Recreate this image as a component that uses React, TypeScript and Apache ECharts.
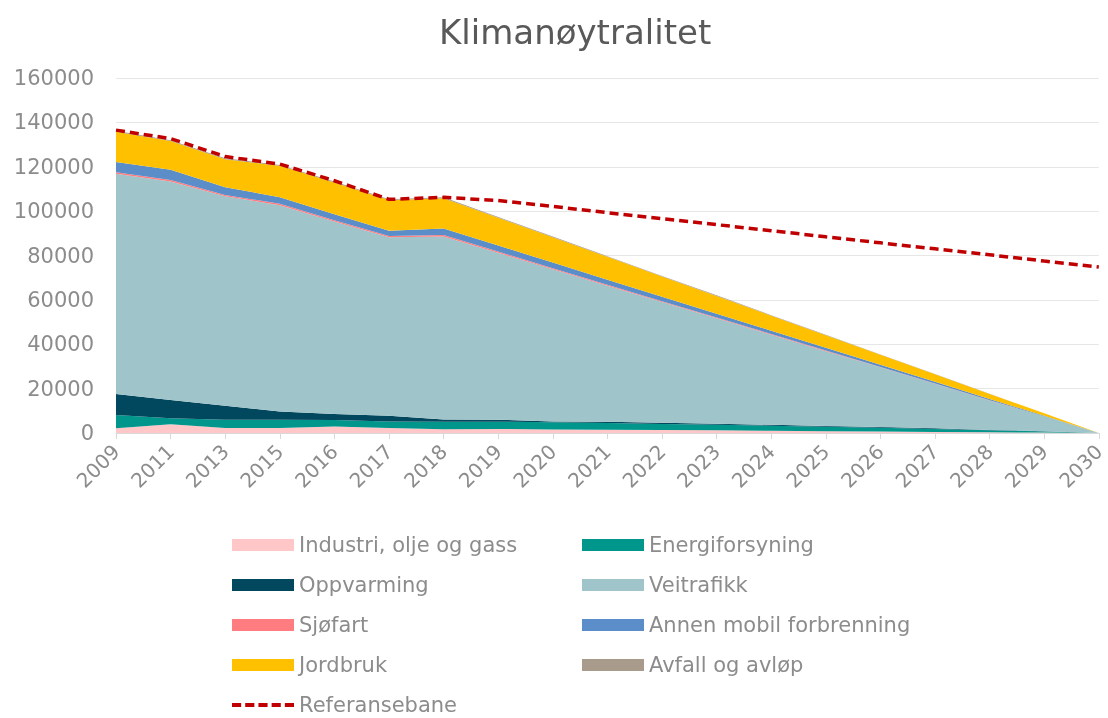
import React, { useEffect, useRef } from "react";
import * as echarts from "echarts";

const years = ["2009", "2011", "2013", "2015", "2016", "2017", "2018", "2019", "2020", "2021", "2022", "2023", "2024", "2025", "2026", "2027", "2028", "2029", "2030"];

const industri = [2100, 4000, 2300, 2300, 2900, 2300, 1700, 1800, 1600, 1500, 1300, 1200, 1000, 800, 700, 500, 300, 200, 0];
const energiforsyning = [6000, 2600, 3700, 3700, 3000, 2900, 3400, 3300, 3300, 3000, 2800, 2500, 2300, 2000, 1700, 1300, 900, 500, 0];
const oppvarming = [9500, 8300, 6300, 3700, 2700, 2600, 1000, 900, 300, 600, 500, 500, 400, 400, 300, 300, 200, 100, 0];
const veitrafikk = [99300, 98500, 94400, 93000, 86700, 80400, 82500, 75200, 68600, 61300, 54400, 47500, 40600, 33700, 26900, 20100, 13300, 6700, 0];
const sjofart = [600, 600, 600, 600, 600, 600, 600, 550, 500, 450, 400, 350, 300, 250, 200, 150, 100, 50, 0];
const annenMobil = [4600, 4600, 3500, 3000, 2700, 2300, 3000, 2750, 2500, 2250, 2000, 1750, 1500, 1250, 1000, 750, 500, 250, 0];
const jordbruk = [13700, 13000, 12600, 14100, 14300, 13900, 13600, 12500, 11400, 10300, 9100, 8000, 6800, 5700, 4500, 3400, 2300, 1100, 0];
const avfall = [400, 400, 400, 400, 400, 400, 400, 370, 330, 300, 270, 230, 200, 170, 130, 100, 70, 30, 0];
const referansebane = [136500, 132700, 124600, 121200, 113700, 105300, 106200, 104800, 102100, 99300, 96600, 93900, 91200, 88400, 85700, 83000, 80300, 77500, 74800];

const yTicks = { min: 0, max: 160000, interval: 20000 };

const FONT = "DejaVu Sans";
const GRAY = "#8c8c8c";
const DASH_ICON = "path://M0,0h9v4h-9z M13,0h9v4h-9z M26,0h9v4h-9z M39,0h9v4h-9z M52,0h9v4h-9z";

const areaDefs = [
  { name: "Industri, olje og gass", data: industri, color: "#ffc7c7" },
  { name: "Energiforsyning", data: energiforsyning, color: "#00968c" },
  { name: "Oppvarming", data: oppvarming, color: "#01475e" },
  { name: "Veitrafikk", data: veitrafikk, color: "#9fc5ca" },
  { name: "Sjøfart", data: sjofart, color: "#ff7c80" },
  { name: "Annen mobil forbrenning", data: annenMobil, color: "#5b8ec8" },
  { name: "Jordbruk", data: jordbruk, color: "#ffc000" },
  { name: "Avfall og avløp", data: avfall, color: "#a89b8c" },
];

export default function App() {
  const ref = useRef<HTMLDivElement>(null);
  useEffect(() => {
    if (!ref.current) return;
    const chart = echarts.init(ref.current, undefined, { renderer: "svg" });
    const series: any[] = areaDefs.map((d) => ({
      name: d.name,
      type: "line",
      stack: "total",
      data: d.data,
      symbol: "none",
      lineStyle: { width: 0, color: d.color },
      itemStyle: { color: d.color },
      areaStyle: { color: d.color, opacity: 1 },
      emphasis: { disabled: true },
    }));
    series.push({
      name: "Referansebane",
      type: "line",
      data: referansebane,
      symbol: "none",
      lineStyle: { width: 3.5, color: "#c00000", type: [9, 5] },
      itemStyle: { color: "#c00000" },
      z: 10,
    });
    const legendCommon = {
      orient: "vertical",
      itemWidth: 62,
      itemHeight: 12,
      itemGap: 18,
      padding: 0,
      textStyle: { fontFamily: FONT, fontSize: 21, lineHeight: 22, color: GRAY },
      selectedMode: false,
    };
    chart.setOption({
      animation: false,
      title: {
        text: "Klimanøytralitet",
        left: 434,
        top: 10,
        textStyle: { fontFamily: FONT, fontSize: 34, fontWeight: "normal", color: "#595959" },
      },
      grid: { left: 116, right: 5, top: 78, bottom: 285, containLabel: false },
      legend: [
        {
          ...legendCommon,
          left: 232,
          top: 534,
          data: [
            { name: "Industri, olje og gass", icon: "rect" },
            { name: "Oppvarming", icon: "rect" },
            { name: "Sjøfart", icon: "rect" },
            { name: "Jordbruk", icon: "rect" },
            { name: "Referansebane", icon: DASH_ICON },
          ],
        },
        {
          ...legendCommon,
          left: 582,
          top: 534,
          data: [
            { name: "Energiforsyning", icon: "rect" },
            { name: "Veitrafikk", icon: "rect" },
            { name: "Annen mobil forbrenning", icon: "rect" },
            { name: "Avfall og avløp", icon: "rect" },
          ],
        },
      ],
      xAxis: {
        type: "category",
        data: years,
        boundaryGap: false,
        axisLine: { lineStyle: { color: "#d9d9d9" } },
        axisTick: { show: true, length: 6, lineStyle: { color: "#d9d9d9" } },
        axisLabel: { rotate: 45, fontFamily: FONT, fontSize: 20, color: GRAY, margin: 15, interval: 0 },
        splitLine: { show: false },
      },
      yAxis: {
        type: "value",
        min: yTicks.min,
        max: yTicks.max,
        interval: yTicks.interval,
        axisLine: { show: false },
        axisTick: { show: false },
        axisLabel: {
          fontFamily: FONT,
          fontSize: 21,
          color: GRAY,
          margin: 22,
          formatter: (v: number) => String(v),
        },
        splitLine: { lineStyle: { color: "#e6e6e6" } },
      },
      series,
    });
    return () => chart.dispose();
  }, []);
  return <div ref={ref} style={{ position: "fixed", left: 0, top: 0, width: 1108, height: 718 }} />;
}
